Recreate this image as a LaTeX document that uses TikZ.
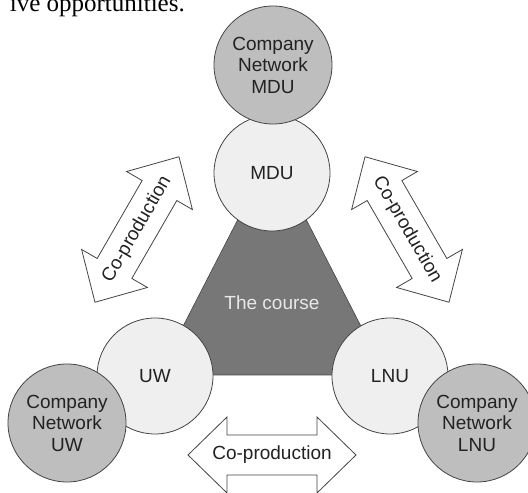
\documentclass[tikz,border=0pt]{standalone}
\usepackage{fontspec}
\setmainfont{Liberation Serif}
\newfontfamily\arialfont{Liberation Sans}
\definecolor{edgegray}{HTML}{444444}
\definecolor{unifill}{HTML}{EFEFEF}
\definecolor{netfill}{HTML}{BEBEBE}
\definecolor{coursefill}{HTML}{777777}
\definecolor{coursetext}{HTML}{E8E8E8}
\definecolor{labeltext}{HTML}{222222}

\tikzset{
  coprod/.pic={
    \draw[arrowbox] (-84,0) -- (-45,38) -- (-45,20) -- (45,20) -- (45,38)
      -- (84,0) -- (45,-38) -- (45,-20) -- (-45,-20) -- (-45,-38) -- cycle;
    \node[lbl] (-text) {Co-production};
  }
}

\begin{document}
\begin{tikzpicture}[x=1pt,y=1pt,
  lbl/.style={font=\arialfont\fontsize{19}{21.5}\selectfont,text=labeltext,align=center,inner sep=0pt},
  uni/.style={lbl,circle,draw=edgegray,line width=0.8pt,fill=unifill,minimum size=116pt},
  net/.style={uni,fill=netfill,minimum size=118pt},
  arrowbox/.style={draw=edgegray,fill=white,line width=0.8pt}]
  \useasboundingbox (0,0) rectangle (528,493);

  % end of the sentence above
  \node[font=\fontsize{25}{30}\selectfont,anchor=base east,inner sep=0pt] (sentence) at (185,481) {ive opportunities.};

  % the course in the middle
  \coordinate (L) at (158,118);
  \coordinate (R) at (386,118);
  \coordinate (T) at (272,340);
  \filldraw[fill=coursefill,draw=edgegray,line width=0.6pt] (L) -- (R) -- (T) -- cycle;
  \node[lbl,text=coursetext] (course) at (272,190) {The course};

  % universities
  \node[uni] (mdu) at (272,320) {MDU};
  \node[uni] (uw)  at (155,117) {UW};
  \node[uni] (lnu) at (390,117) {LNU};

  % company networks
  \node[net] (netmdu) at (273,428) {Company\\Network\\MDU};
  \node[net] (netuw)  at (67,70)   {Company\\Network\\UW};
  \node[net] (netlnu) at (477,70)  {Company\\Network\\LNU};

  % co-production arrows
  \pic (left)   [rotate=60,transform shape]  at (137,263.5) {coprod};
  \pic (right)  [rotate=-60,transform shape] at (407,263.5) {coprod};
  \pic (bottom) at (272,38) {coprod};
\end{tikzpicture}
\end{document}
